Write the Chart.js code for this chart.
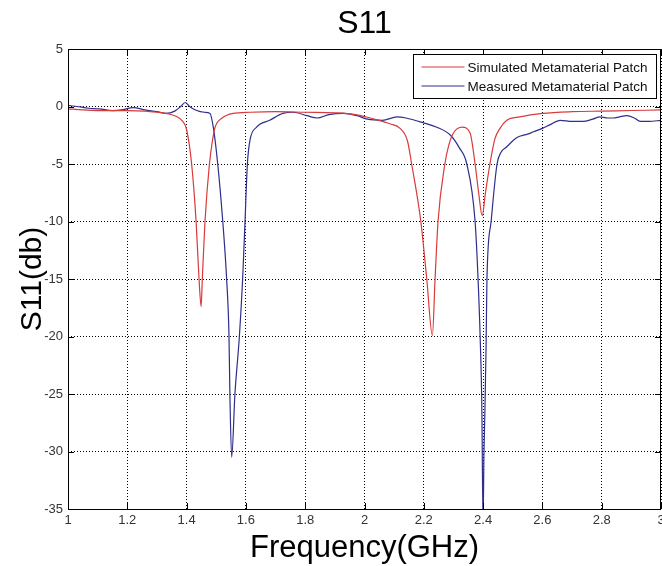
<!DOCTYPE html>
<html>
<head>
<meta charset="utf-8">
<title>S11</title>
<script src="https://cdn.jsdelivr.net/npm/chart.js@4.4.1/dist/chart.umd.min.js"></script>
<style>
  html, body { margin: 0; padding: 0; background: #fff; }
  #wrap { width: 662px; height: 566px; position: relative; }
</style>
</head>
<body>
<div id="wrap"><canvas id="chart"></canvas></div>
<script>
'use strict';

// values
const chartTitle = 'S11';
const xTicks = [1, 1.2, 1.4, 1.6, 1.8, 2, 2.2, 2.4, 2.6, 2.8, 3];
const yTicks = [-35, -30, -25, -20, -15, -10, -5, 0, 5];

const simLabel = 'Simulated Metamaterial Patch';
const simFreq = [1.00, 1.05, 1.10, 1.20, 1.26, 1.30, 1.33, 1.36, 1.387, 1.40, 1.417, 1.432, 1.442, 1.449,
  1.453, 1.462, 1.477, 1.487, 1.496, 1.52, 1.557, 1.614, 1.70, 1.80, 1.90, 1.97, 2.02, 2.06, 2.086, 2.12,
  2.145, 2.159, 2.19, 2.21, 2.229, 2.238, 2.248, 2.271, 2.285, 2.30, 2.33, 2.356, 2.373, 2.385, 2.397,
  2.408, 2.423, 2.44, 2.457, 2.48, 2.524, 2.60, 2.70, 2.80, 2.90, 3.00];
const simS11 = [-0.2, -0.3, -0.35, -0.35, -0.4, -0.5, -0.6, -0.8, -1.3, -2.0, -5, -10, -15, -17.4,
  -15, -10, -5, -3, -1.8, -1.0, -0.6, -0.5, -0.45, -0.5, -0.55, -0.7, -1.0, -1.3, -1.5, -1.9,
  -3.0, -5, -10, -15, -19.9, -15, -10, -5, -3.3, -2.3, -1.8, -2.3, -5, -7.5, -9.5,
  -7.5, -5, -2.8, -1.9, -1.2, -0.9, -0.6, -0.45, -0.4, -0.35, -0.3];

const measLabel = 'Measured Metamaterial Patch';
const measFreq = [1.00, 1.03, 1.07, 1.105, 1.15, 1.18, 1.22, 1.26, 1.30, 1.33, 1.36, 1.38, 1.395, 1.41,
  1.43, 1.46, 1.479, 1.49, 1.505, 1.522, 1.535, 1.543, 1.546, 1.552, 1.563, 1.578, 1.589, 1.597, 1.605,
  1.614, 1.636, 1.68, 1.725, 1.76, 1.806, 1.84, 1.88, 1.93, 1.975, 2.01, 2.06, 2.11, 2.14, 2.197, 2.244,
  2.29, 2.32, 2.345, 2.373, 2.383, 2.39, 2.396, 2.398, 2.400, 2.403, 2.406, 2.41, 2.413, 2.427, 2.447,
  2.46, 2.48, 2.514, 2.55, 2.57, 2.60, 2.625, 2.66, 2.70, 2.737, 2.77, 2.794, 2.82, 2.84, 2.86, 2.885,
  2.91, 2.93, 2.96, 3.00];
const measS11 = [0.1, 0.0, -0.15, -0.2, -0.35, -0.3, -0.1, -0.3, -0.45, -0.6, -0.4, 0.0, 0.35, 0.0,
  -0.3, -0.5, -0.6, -1.8, -5, -10, -15, -20, -25, -30.5, -25, -20, -15, -10, -5,
  -2.9, -1.8, -1.2, -0.6, -0.5, -0.8, -1.0, -0.7, -0.6, -0.8, -1.1, -1.2, -0.9, -1.0, -1.4, -1.8,
  -2.5, -3.6, -5, -10, -15, -20, -26.6, -32.5, -36, -30, -26.6, -20.9, -15, -10, -5,
  -4, -3.5, -2.7, -2.4, -2.2, -1.9, -1.6, -1.2, -1.3, -1.3, -1.1, -0.9, -1.0, -1.0, -0.9, -0.8,
  -1.0, -1.3, -1.3, -1.2];

const font = '"Liberation Sans", Arial, sans-serif';

function toPoints(xs, ys) {
  return xs.map(function (x, i) { return { x: x, y: ys[i] }; });
}

// MATLAB style box with inward ticks on all four sides
const framePlugin = {
  id: 'frame',
  afterDatasetsDraw(chart) {
    const ctx = chart.ctx;
    const a = chart.chartArea;
    const xs = chart.scales.x;
    const ys = chart.scales.y;
    ctx.save();
    ctx.strokeStyle = '#000';
    ctx.lineWidth = 1;
    ctx.beginPath();
    for (const v of xTicks) {
      const px = Math.round(xs.getPixelForValue(v)) + 0.5;
      ctx.moveTo(px, a.bottom); ctx.lineTo(px, a.bottom - 6);
      ctx.moveTo(px, a.top); ctx.lineTo(px, a.top + 6);
    }
    for (const v of yTicks) {
      const py = Math.round(ys.getPixelForValue(v)) + 0.5;
      ctx.moveTo(a.left, py); ctx.lineTo(a.left + 6, py);
      ctx.moveTo(a.right, py); ctx.lineTo(a.right - 6, py);
    }
    ctx.stroke();
    ctx.strokeRect(Math.round(a.left) + 0.5, Math.round(a.top) + 0.5,
      Math.round(a.right - a.left) - 1, Math.round(a.bottom - a.top));

    // title
    ctx.fillStyle = '#000';
    ctx.font = '32px ' + font;
    ctx.textAlign = 'center';
    ctx.textBaseline = 'alphabetic';
    ctx.fillText(chartTitle, (a.left + a.right) / 2, 33);

    // legend
    const bx = Math.round(a.right) - 247.5;
    const by = Math.round(a.top) + 5.5;
    ctx.fillStyle = '#fff';
    ctx.fillRect(bx, by, 243, 44);
    ctx.strokeRect(bx, by, 243, 44);
    ctx.font = '13.5px ' + font;
    ctx.textAlign = 'left';
    ctx.textBaseline = 'middle';
    chart.data.datasets.forEach(function (ds, i) {
      const ly = by + 12.5 + i * 19;
      ctx.strokeStyle = ds.borderColor;
      ctx.beginPath();
      ctx.moveTo(bx + 8, ly);
      ctx.lineTo(bx + 51, ly);
      ctx.stroke();
      ctx.fillStyle = '#111';
      ctx.fillText(ds.label, bx + 54, ly + 1);
    });
    ctx.restore();
  }
};

new Chart(document.getElementById('chart'), {
  type: 'line',
  data: {
    datasets: [
      {
        label: simLabel,
        data: toPoints(simFreq, simS11),
        borderColor: '#d93a3a',
        borderWidth: 1.2,
        pointRadius: 0,
        cubicInterpolationMode: 'monotone'
      },
      {
        label: measLabel,
        data: toPoints(measFreq, measS11),
        borderColor: '#2e2e8e',
        borderWidth: 1.2,
        pointRadius: 0,
        cubicInterpolationMode: 'monotone'
      }
    ]
  },
  options: {
    responsive: true,
    maintainAspectRatio: false,
    animation: false,
    layout: { padding: { top: 49, right: 1, left: 0, bottom: 0 } },
    plugins: {
      legend: { display: false },
      tooltip: { enabled: false }
    },
    scales: {
      x: {
        type: 'linear',
        min: 1,
        max: 3,
        afterBuildTicks: function (scale) {
          scale.ticks = xTicks.map(function (v) { return { value: v }; });
        },
        afterFit: function (scale) {
          scale.height = 57;
          scale.paddingLeft = 0;
          scale.paddingRight = 0;
        },
        grid: { color: '#000', lineWidth: 1, drawTicks: false },
        border: { display: false, dash: [1, 2] },
        ticks: {
          color: '#333',
          font: { family: font, size: 13 },
          padding: 4,
          maxRotation: 0,
          callback: function (v) { return String(Math.round(v * 10) / 10); }
        },
        title: {
          display: true,
          text: 'Frequency(GHz)',
          color: '#000',
          font: { family: font, size: 31, lineHeight: 1 },
          padding: { top: 0, bottom: 2 }
        }
      },
      y: {
        min: -35,
        max: 5,
        afterBuildTicks: function (scale) {
          scale.ticks = yTicks.map(function (v) { return { value: v }; });
        },
        afterFit: function (scale) {
          scale.width = 68;
          scale.paddingTop = 0;
          scale.paddingBottom = 0;
        },
        grid: { color: '#000', lineWidth: 1, drawTicks: false },
        border: { display: false, dash: [1, 2] },
        ticks: {
          color: '#333',
          font: { family: font, size: 13 },
          padding: 5
        },
        title: {
          display: true,
          text: 'S11(db)',
          color: '#000',
          font: { family: font, size: 30, lineHeight: 1 },
          padding: { top: 18, bottom: 0 }
        }
      }
    }
  },
  plugins: [framePlugin]
});
</script>
</body>
</html>
